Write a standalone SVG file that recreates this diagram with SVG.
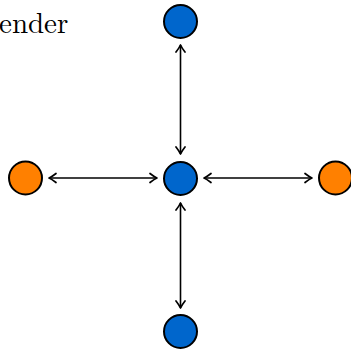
<svg xmlns="http://www.w3.org/2000/svg" width="351" height="351" viewBox="0 0 351 351">
<defs>
<marker id="arr" viewBox="-9 -6 11 12" refX="0" refY="0" markerWidth="11" markerHeight="12" markerUnits="userSpaceOnUse" orient="auto-start-reverse">
<path d="M -7 -4.5 Q -2.5 -1 0 0 Q -2.5 1 -7 4.5" fill="none" stroke="#000" stroke-width="1.7" stroke-linecap="round" stroke-linejoin="round"/>
</marker>
<style>
.blue{fill:#0066cc;stroke:#000;stroke-width:2}
.orange{fill:#ff8000;stroke:#000;stroke-width:2}
.edge{stroke:#000;stroke-width:1.6;fill:none;marker-start:url(#arr);marker-end:url(#arr)}
.lbl{font-family:"Latin Modern Roman","Liberation Serif",serif;font-size:29px;fill:#000}
</style>
</defs>
<text class="lbl" x="-1" y="32.5">ender</text>
<g id="connectors">
<line class="edge" x1="180.5" y1="45" x2="180.5" y2="154"/>
<line class="edge" x1="180.5" y1="203" x2="180.5" y2="308"/>
<line class="edge" x1="49" y1="178" x2="157" y2="178"/>
<line class="edge" x1="204" y1="178" x2="312" y2="178"/>
</g>
<g id="top"><circle class="blue" cx="180.5" cy="21.5" r="16.5"/></g>
<g id="center"><circle class="blue" cx="180.5" cy="178.5" r="16.5"/></g>
<g id="left"><circle class="orange" cx="25.5" cy="178" r="16.5"/></g>
<g id="right"><circle class="orange" cx="335.5" cy="178" r="16.5"/></g>
<g id="bottom"><circle class="blue" cx="180.5" cy="331.5" r="16.5"/></g>
</svg>
